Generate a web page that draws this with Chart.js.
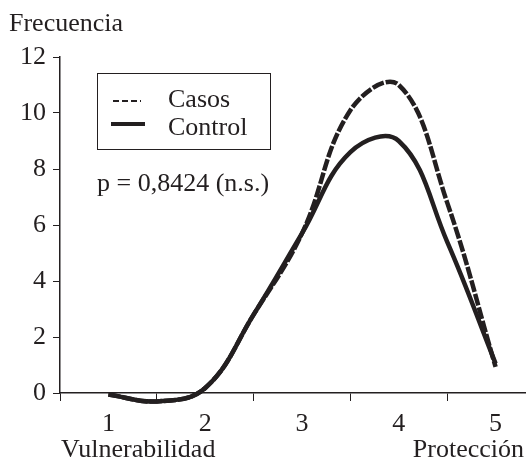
<!DOCTYPE html>
<html>
<head>
<meta charset="utf-8">
<script src="https://cdn.jsdelivr.net/npm/chart.js@4"></script>
<style>
  html, body { margin: 0; padding: 0; background: #fff; overflow: hidden; }
</style>
</head>
<body>
<canvas id="curvaChart" width="560" height="462"></canvas>
<script>
const categories = ['1', '2', '3', '4', '5'];
// puntos (posición en la escala 1-5)
const xPos = [1, 1.5, 2, 2.5, 3, 3.5, 4, 4.5, 5];
const casos = [-0.05, -0.3, 0.18, 2.8, 5.7, 10.1, 11.0, 6.8, 0.93];
const control = [-0.05, -0.3, 0.18, 2.8, 5.7, 8.6, 9.0, 5.4, 1.05];
const yTicks = [0, 2, 4, 6, 8, 10, 12];
const legendLabels = ['Casos', 'Control'];
const pText = 'p = 0,8424 (n.s.)';

const ink = '#231f20';
const serif = '"Liberation Serif", "DejaVu Serif", serif';

const toPoints = ys => ys.map((y, i) => ({ x: xPos[i], y: y }));

// textos extra: leyenda, eje y, extremos de la escala
const extras = {
  id: 'extras',
  afterDraw(chart) {
    const ctx = chart.ctx;
    const a = chart.chartArea;
    ctx.save();
    ctx.fillStyle = ink;
    ctx.strokeStyle = ink;
    ctx.font = '26px ' + serif;
    ctx.textBaseline = 'alphabetic';

    ctx.textAlign = 'left';
    ctx.fillText('Frecuencia', 9, 31);

    // caja de leyenda
    const bx = a.left + 37, by = 73, bw = 173, bh = 76;
    ctx.lineWidth = 1;
    ctx.strokeRect(bx + 0.5, by + 0.5, bw, bh);

    ctx.lineWidth = 2;
    ctx.setLineDash([6, 3]);
    ctx.beginPath();
    ctx.moveTo(bx + 16, by + 28);
    ctx.lineTo(bx + 44, by + 28);
    ctx.stroke();
    ctx.setLineDash([]);
    ctx.lineWidth = 4;
    ctx.beginPath();
    ctx.moveTo(bx + 14, by + 51);
    ctx.lineTo(bx + 48, by + 51);
    ctx.stroke();

    ctx.fillText(legendLabels[0], bx + 71, by + 34);
    ctx.fillText(legendLabels[1], bx + 71, by + 62);

    ctx.fillText(pText, bx, by + 118);

    ctx.fillText('Vulnerabilidad', 61, 457);
    ctx.textAlign = 'right';
    ctx.fillText('Protección', 524, 457);
    ctx.restore();
  }
};

new Chart(document.getElementById('curvaChart'), {
  type: 'line',
  data: {
    labels: categories,
    datasets: [
      {
        label: legendLabels[0],
        data: toPoints(casos),
        xAxisID: 'xv',
        borderColor: ink,
        borderWidth: 4.5,
        borderDash: [12, 2],
        tension: 0.4,
        pointRadius: 0,
        fill: false,
        clip: false,
      },
      {
        label: legendLabels[1],
        data: toPoints(control),
        xAxisID: 'xv',
        borderColor: ink,
        borderWidth: 4.5,
        tension: 0.4,
        pointRadius: 0,
        fill: false,
        clip: false,
      },
    ],
  },
  plugins: [extras],
  options: {
    responsive: false,
    animation: false,
    layout: { padding: { top: 57, right: 16, left: 0, bottom: 0 } },
    scales: {
      xv: {
        type: 'linear',
        min: 0.5,
        max: 5.5,
        display: false,
      },
      x: {
        type: 'category',
        offset: true,
        grid: { offset: true, drawOnChartArea: false, tickLength: 8, color: ink, lineWidth: 1 },
        border: { color: ink, width: 1.5 },
        ticks: { color: ink, font: { family: serif, size: 26 }, padding: 8, maxRotation: 0 },
        afterFit(scale) { scale.height = 69; },
      },
      y: {
        min: 0,
        max: 12,
        afterBuildTicks(scale) { scale.ticks = yTicks.map(v => ({ value: v })); },
        grid: { drawOnChartArea: false, tickLength: 7, color: ink, lineWidth: 1 },
        border: { color: ink, width: 1.5 },
        ticks: { color: ink, font: { family: serif, size: 26 }, padding: 7 },
        afterFit(scale) { scale.width = 60; },
      },
    },
    plugins: {
      legend: { display: false },
      tooltip: { enabled: false },
    },
  },
});
</script>
</body>
</html>
